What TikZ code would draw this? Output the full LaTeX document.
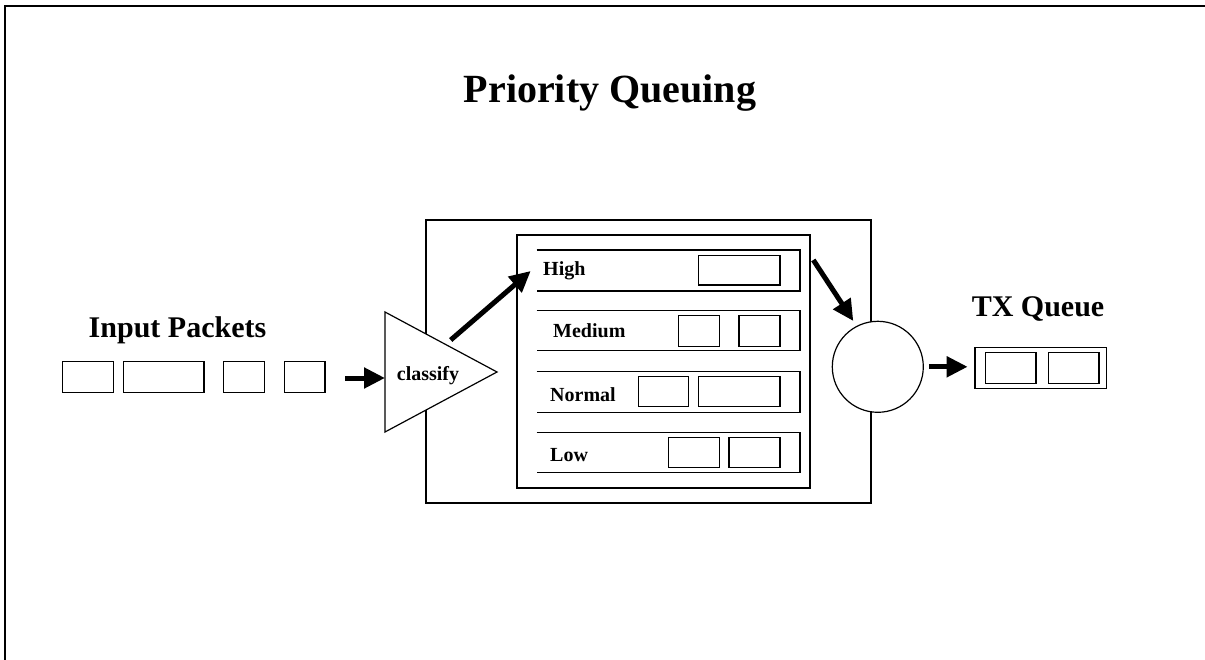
\documentclass[tikz,border=0pt]{standalone}
\usepackage{fontspec}
\setmainfont{Liberation Serif}
\usetikzlibrary{arrows.meta}
\begin{document}
\begin{tikzpicture}[x=1pt,y=-1pt,
  thin line/.style={line width=1.2pt},
  pkt/.style={draw,thin line,rectangle,inner sep=0pt,minimum height=30.6pt},
  lbl/.style={font=\bfseries\fontsize{20}{24}\selectfont,anchor=base west,inner sep=0pt},
  big/.style={font=\bfseries\fontsize{30}{36}\selectfont,anchor=base,inner sep=0pt},
  bigarrow/.style={line width=5pt,-{Triangle[length=21pt,width=20pt]}},
  lane/.style={draw,thin line}]
\useasboundingbox (0,0) rectangle (1205,660);
% page frame
\draw[line width=1.3pt] (5,660) -- (5,6) -- (1205,6);
% title
\node[font=\bfseries\fontsize{40}{48}\selectfont,anchor=base,inner sep=0pt] (title) at (610,102.7) {Priority Queuing};
% input packets
\node[big] (inlbl) at (177.5,337.7) {Input Packets};
\node[pkt,minimum width=50.6pt] (p1) at (88,377) {};
\node[pkt,minimum width=80.7pt] (p2) at (163.7,377) {};
\node[pkt,minimum width=40.7pt] (p3) at (244,377) {};
\node[pkt,minimum width=40.7pt] (p4) at (304.7,377) {};
% outer box
\node[draw,thin line,rectangle,inner sep=0pt,minimum width=445pt,minimum height=283pt] (outer) at (648.5,361.5) {};
% inner box
\node[draw,thin line,rectangle,inner sep=0pt,minimum width=293pt,minimum height=253pt] (inner) at (663.5,361.5) {};
% triangle (classifier)
\coordinate (ta) at (385,312);
\coordinate (tb) at (385,432);
\coordinate (tc) at (497,372);
\filldraw[thin line,fill=white] (ta) -- (tc) -- (tb) -- cycle;
\node[lbl,anchor=base] (cls) at (428,381) {classify};
% arrow into classifier
\coordinate (inA) at (345,378);
\coordinate (inB) at (385,378);
\draw[bigarrow] (inA) -- (inB);
% lanes
\draw[lane] (536.7,250) -- (800,250) -- (800,291) -- (536.7,291);
\draw[lane] (536.7,310.7) -- (800,310.7) -- (800,350.7) -- (536.7,350.7);
\draw[lane] (536.7,371.7) -- (800,371.7) -- (800,412.3) -- (536.7,412.3);
\draw[lane] (536.7,432.3) -- (800,432.3) -- (800,472.7) -- (536.7,472.7);
\node[lbl] (high) at (543,275.7) {High};
\node[lbl] (med) at (553,337.7) {Medium};
\node[lbl] (norm) at (550,401.7) {Normal};
\node[lbl] (low) at (550,461.7) {Low};
% packets in lanes
\node[pkt,minimum width=81.7pt,minimum height=29.7pt] (h1) at (739.2,270.2) {};
\node[pkt,minimum width=41pt] (m1) at (698.8,331) {};
\node[pkt,minimum width=41pt] (m2) at (759.5,331) {};
\node[pkt,minimum width=50.4pt,minimum height=30pt] (n1) at (663.5,391.7) {};
\node[pkt,minimum width=81.7pt,minimum height=30pt] (n2) at (739.2,391.7) {};
\node[pkt,minimum width=51pt] (l1) at (693.8,452.5) {};
\node[pkt,minimum width=51pt] (l2) at (754.5,452.5) {};
% arrow classify -> High
\coordinate (c1) at (450.7,340);
\coordinate (c2) at (530.7,271);
\draw[bigarrow] (c1) -- (c2);
% scheduler circle
\node[draw,thin line,circle,fill=white,inner sep=0pt,minimum size=91pt] (sched) at (877.8,366.8) {};
\coordinate (s1) at (813.3,260);
\coordinate (s2) at (853.3,321);
\draw[bigarrow] (s1) -- (s2);
% TX queue
\node[big] (txlbl) at (1038,316.7) {TX Queue};
\node[draw,thin line,rectangle,inner sep=0pt,minimum width=131.7pt,minimum height=40.6pt] (tx) at (1040.8,368) {};
\node[pkt,minimum width=50.7pt,minimum height=31pt] (t1) at (1010.7,367.8) {};
\node[pkt,minimum width=50.7pt,minimum height=31pt] (t2) at (1073.7,367.8) {};
\draw[bigarrow,shorten <=5pt,shorten >=6.7pt] (sched.east) -- (sched.east -| tx.west);
\end{tikzpicture}
\end{document}
